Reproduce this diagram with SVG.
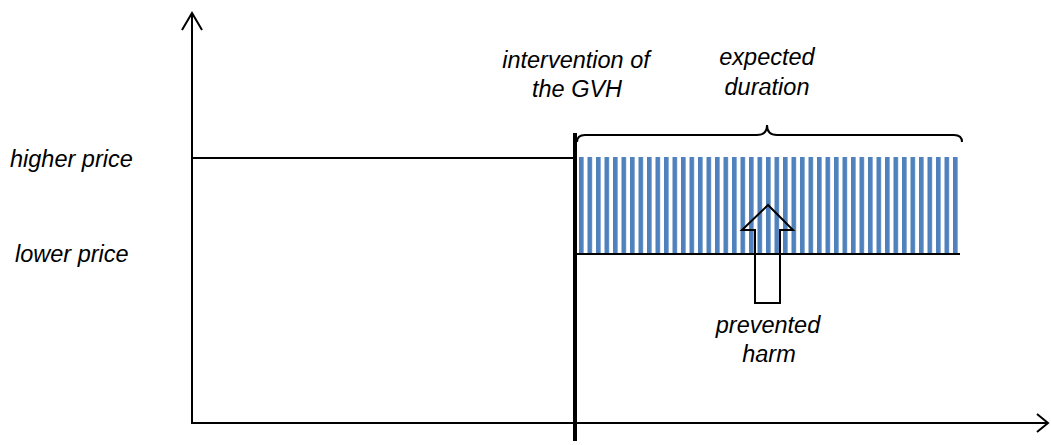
<svg xmlns="http://www.w3.org/2000/svg" width="1051" height="445" viewBox="0 0 1051 445">
<style>
.t{font-family:"Liberation Sans",Arial,sans-serif;font-style:italic;font-size:23.5px;fill:#000}
.ln{stroke:#000;stroke-width:2;fill:none}
</style>
<defs>
<pattern id="stripes" patternUnits="userSpaceOnUse" x="579" y="0" width="8.5" height="10">
<rect x="0" y="0" width="4.6" height="10" fill="#4F81BD"/>
</pattern>
</defs>
<rect width="1051" height="445" fill="#fff"/>
<g id="area">
<rect x="579" y="157" width="379" height="97" fill="url(#stripes)"/>
</g>
<g id="connectors">
<line class="ln" x1="192" y1="13" x2="192" y2="423"/>
<polyline class="ln" points="182,30 192,13 202,30"/>
<line class="ln" x1="191" y1="423" x2="1048" y2="423"/>
<polyline class="ln" points="1037,414 1048,423 1037,432"/>
<line class="ln" x1="192" y1="158" x2="575" y2="158"/>
<line class="ln" x1="575" y1="254" x2="960" y2="254"/>
<line x1="575" y1="133" x2="575" y2="441" stroke="#000" stroke-width="4"/>
<path class="ln" d="M577,142 Q577,135 585,135 L757,135 Q767,135 767,125 Q767,135 777,135 L954,135 Q962,135 962,142"/>
</g>
<g id="prevented-arrow">
<path class="ln" d="M755,303 L755,230 L742,230 L768,205 L793,230 L780,230 L780,303 Z"/>
</g>
<g id="labels">
<text class="t" x="10" y="167">higher price</text>
<text class="t" x="15" y="262">lower price</text>
<text class="t" x="576" y="68" text-anchor="middle">intervention of</text>
<text class="t" x="577" y="97" text-anchor="middle">the GVH</text>
<text class="t" x="767" y="65" text-anchor="middle">expected</text>
<text class="t" x="767" y="95" text-anchor="middle">duration</text>
<text class="t" x="768" y="333" text-anchor="middle">prevented</text>
<text class="t" x="769" y="362" text-anchor="middle">harm</text>
</g>
</svg>
